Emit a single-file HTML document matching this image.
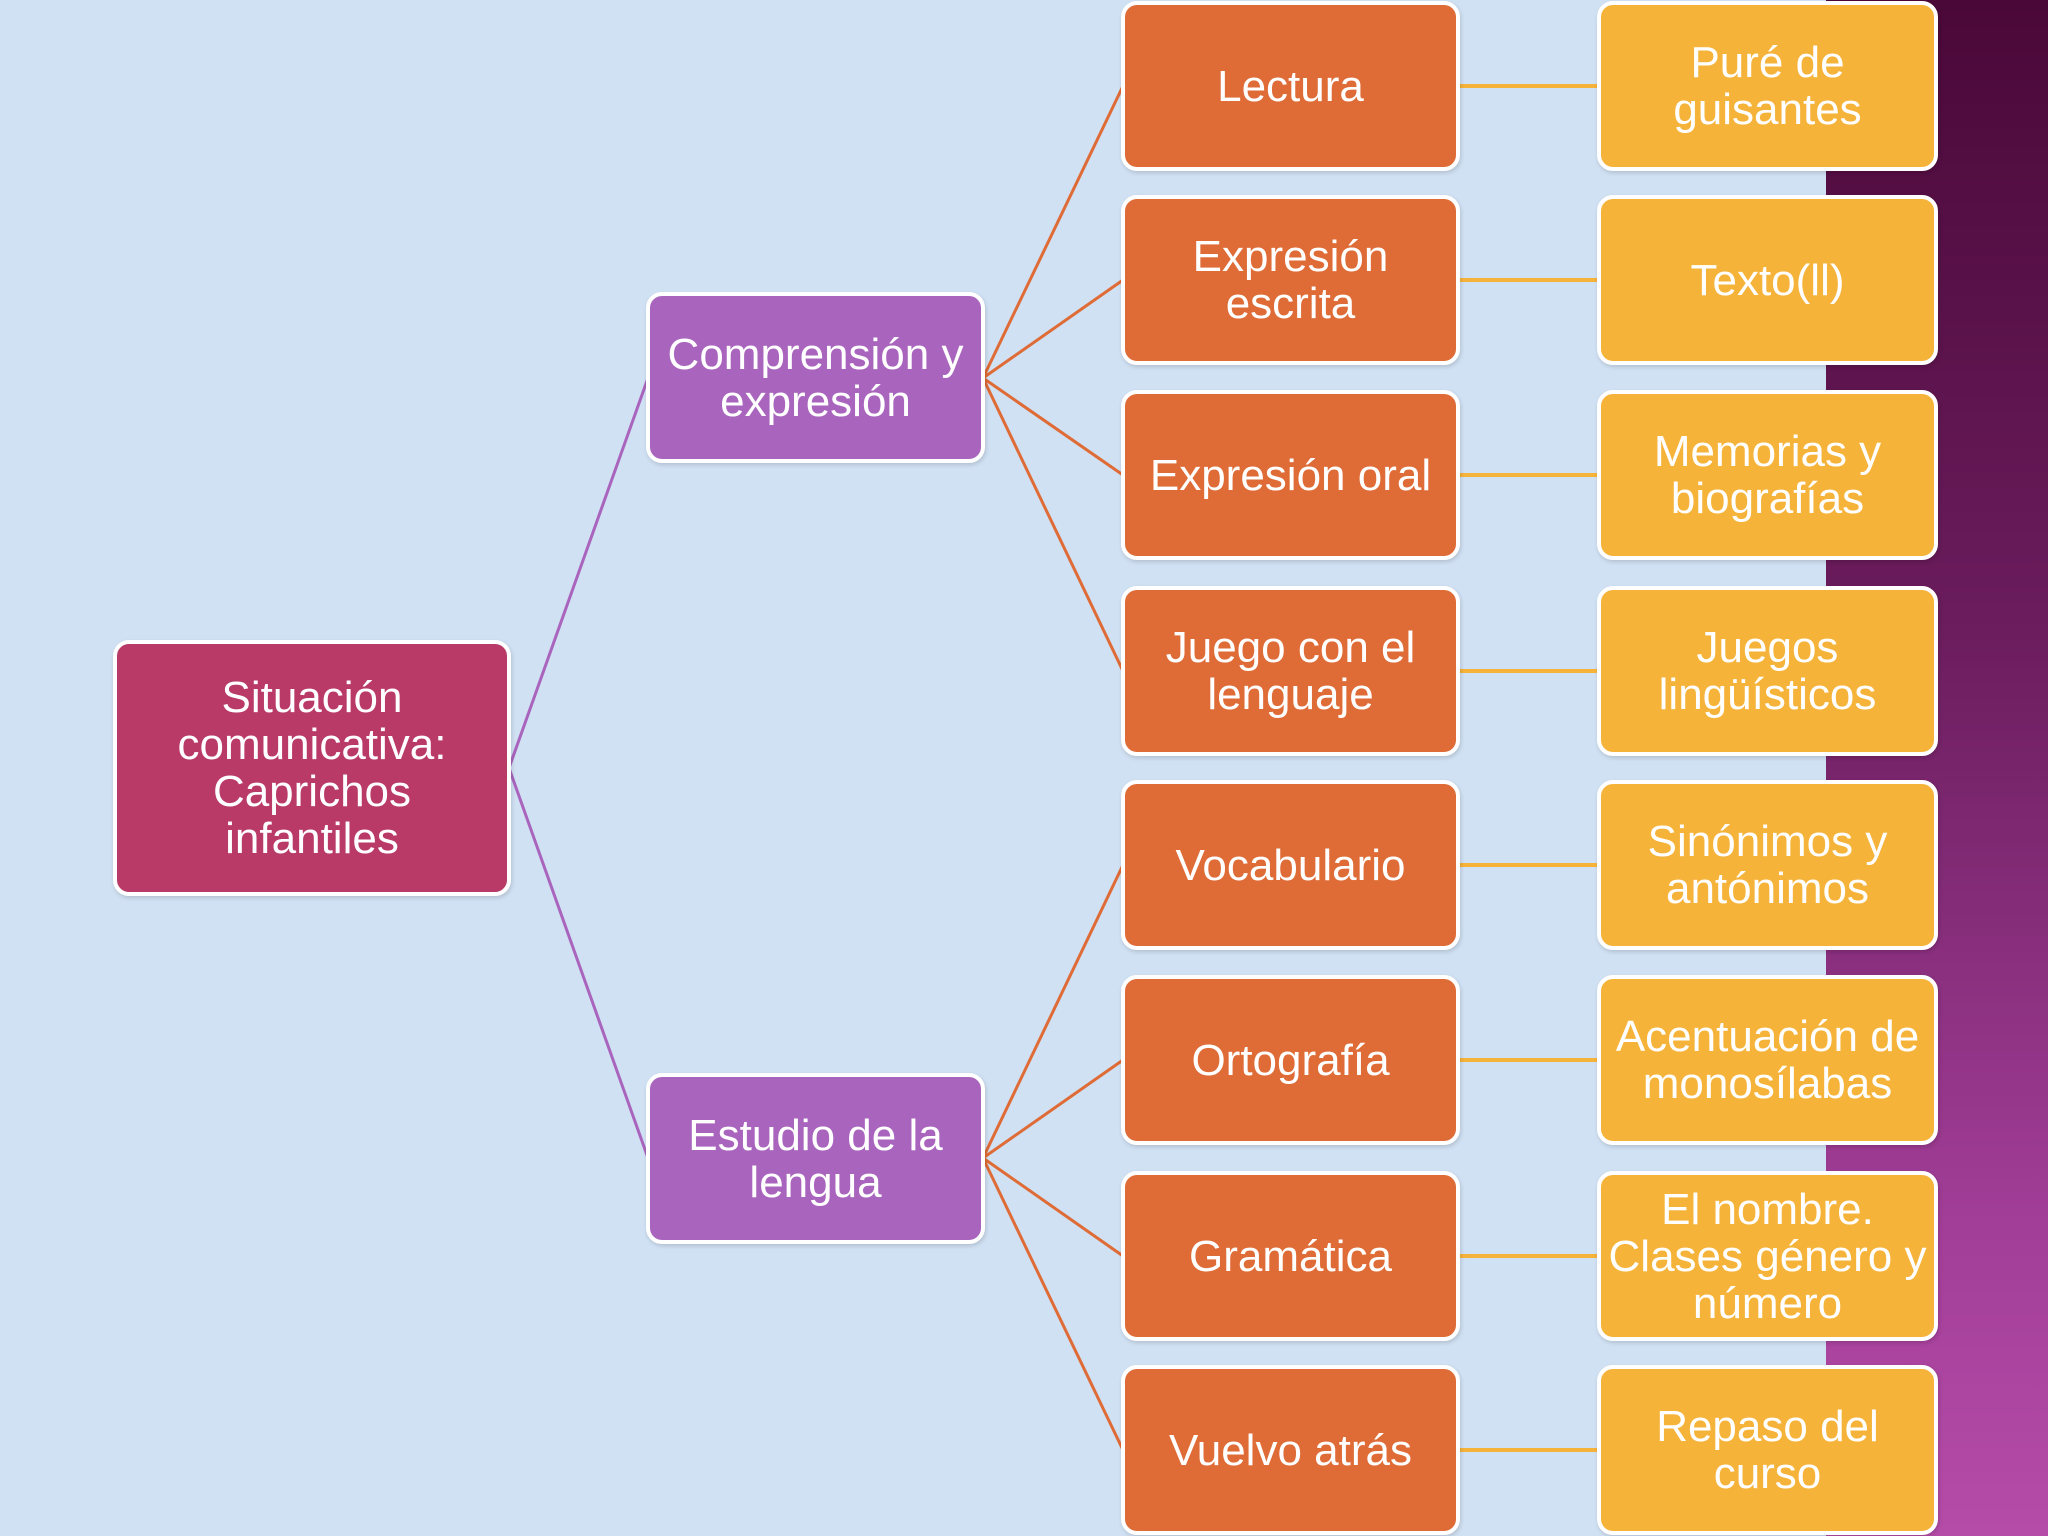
<!DOCTYPE html>
<html><head><meta charset="utf-8"><style>
body{margin:0;width:2048px;height:1536px;overflow:hidden;position:relative;background:#d0e1f3;font-family:"Liberation Sans",sans-serif}
.band{position:absolute;left:1826px;top:0;width:222px;height:1536px;background:linear-gradient(180deg,#4a0838 0%,#6a1c5c 40%,#a23e98 80%,#b54ca8 100%)}
.b{position:absolute;box-sizing:border-box;border:4px solid #fff;border-radius:16px;color:#fff;display:flex;align-items:center;justify-content:center;text-align:center;font-size:44px;line-height:47px;box-shadow:1px 2px 4px rgba(0,0,0,.15);white-space:nowrap}
.r{background:#b93a67}.p{background:#a965bd}.o{background:#df6b36}.y{background:#f6b33a}
svg{position:absolute;left:0;top:0}
</style></head><body>
<div class="band"></div>
<svg width="2048" height="1536">
<g stroke="#a965bd" stroke-width="3" fill="none">
<line x1="509" y1="768" x2="648" y2="378"/><line x1="509" y1="768" x2="648" y2="1158"/>
</g>
<g stroke="#df6b36" stroke-width="3" fill="none">
<line x1="983" y1="378" x2="1123" y2="86"/><line x1="983" y1="378" x2="1123" y2="280"/>
<line x1="983" y1="378" x2="1123" y2="475"/><line x1="983" y1="378" x2="1123" y2="671"/>
<line x1="983" y1="1158" x2="1123" y2="865"/><line x1="983" y1="1158" x2="1123" y2="1060"/>
<line x1="983" y1="1158" x2="1123" y2="1256"/><line x1="983" y1="1158" x2="1123" y2="1450"/>
</g>
<g stroke="#f6b33a" stroke-width="4">
<line x1="1458" y1="86" x2="1599" y2="86"/><line x1="1458" y1="280" x2="1599" y2="280"/>
<line x1="1458" y1="475" x2="1599" y2="475"/><line x1="1458" y1="671" x2="1599" y2="671"/>
<line x1="1458" y1="865" x2="1599" y2="865"/><line x1="1458" y1="1060" x2="1599" y2="1060"/>
<line x1="1458" y1="1256" x2="1599" y2="1256"/><line x1="1458" y1="1450" x2="1599" y2="1450"/>
</g>
</svg>
<div class="b r" style="left:113px;top:640px;width:398px;height:256px">Situación<br>comunicativa:<br>Caprichos<br>infantiles</div>
<div class="b p" style="left:646px;top:292px;width:339px;height:171px">Comprensión y<br>expresión</div>
<div class="b p" style="left:646px;top:1073px;width:339px;height:171px">Estudio de la<br>lengua</div>
<div class="b o" style="left:1121px;top:1px;width:339px;height:170px">Lectura</div>
<div class="b o" style="left:1121px;top:195px;width:339px;height:170px">Expresión<br>escrita</div>
<div class="b o" style="left:1121px;top:390px;width:339px;height:170px">Expresión oral</div>
<div class="b o" style="left:1121px;top:586px;width:339px;height:170px">Juego con el<br>lenguaje</div>
<div class="b o" style="left:1121px;top:780px;width:339px;height:170px">Vocabulario</div>
<div class="b o" style="left:1121px;top:975px;width:339px;height:170px">Ortografía</div>
<div class="b o" style="left:1121px;top:1171px;width:339px;height:170px">Gramática</div>
<div class="b o" style="left:1121px;top:1365px;width:339px;height:170px">Vuelvo atrás</div>
<div class="b y" style="left:1597px;top:1px;width:341px;height:170px">Puré de<br>guisantes</div>
<div class="b y" style="left:1597px;top:195px;width:341px;height:170px">Texto(ll)</div>
<div class="b y" style="left:1597px;top:390px;width:341px;height:170px">Memorias y<br>biografías</div>
<div class="b y" style="left:1597px;top:586px;width:341px;height:170px">Juegos<br>lingüísticos</div>
<div class="b y" style="left:1597px;top:780px;width:341px;height:170px">Sinónimos y<br>antónimos</div>
<div class="b y" style="left:1597px;top:975px;width:341px;height:170px">Acentuación de<br>monosílabas</div>
<div class="b y" style="left:1597px;top:1171px;width:341px;height:170px">El nombre.<br>Clases género y<br>número</div>
<div class="b y" style="left:1597px;top:1365px;width:341px;height:170px">Repaso del<br>curso</div>
</body></html>
